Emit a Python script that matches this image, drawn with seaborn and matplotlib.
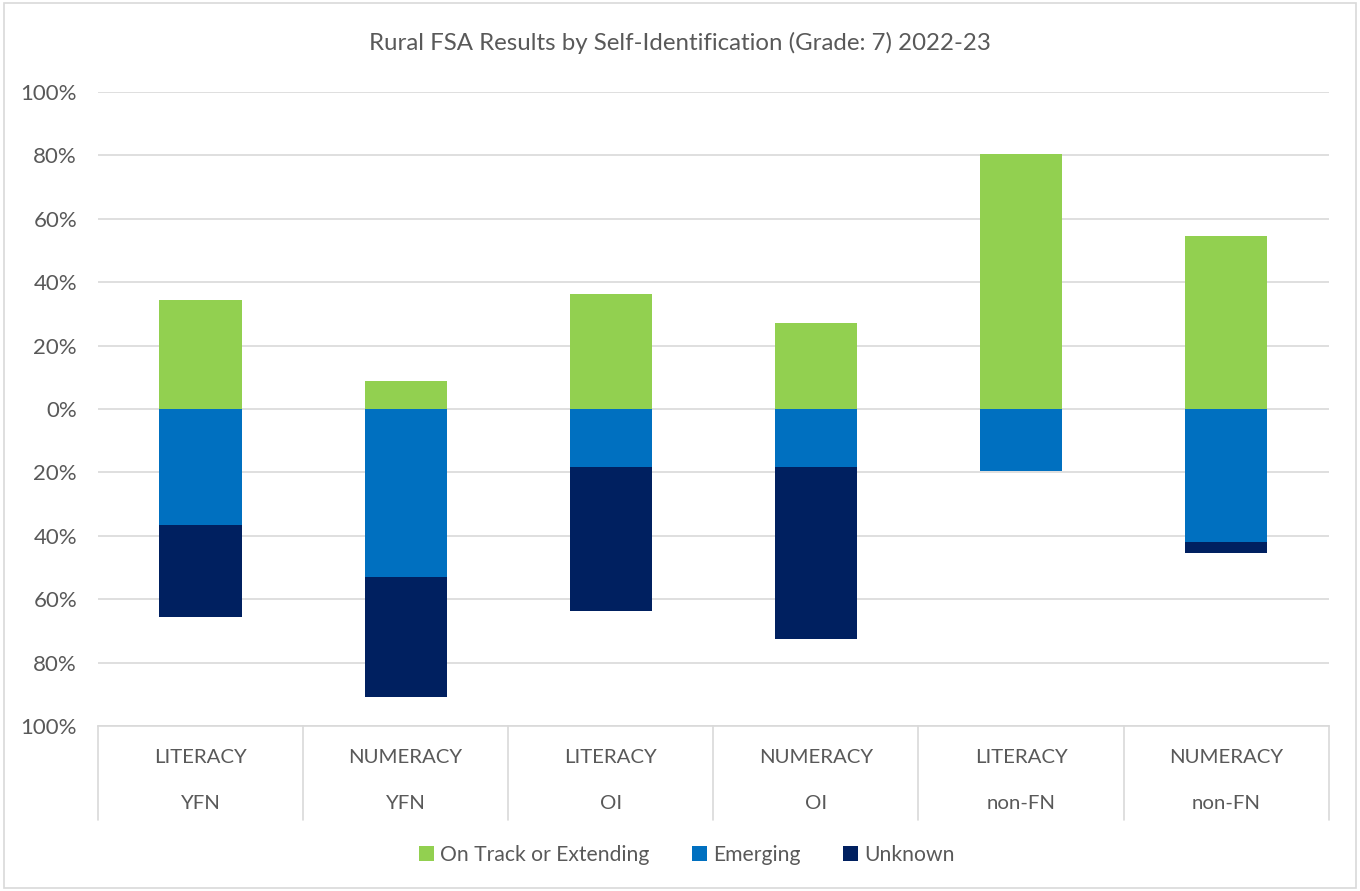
import matplotlib
matplotlib.use("Agg")
import matplotlib.pyplot as plt
import matplotlib.transforms as mtransforms
from matplotlib.patches import Patch, Rectangle
from matplotlib.ticker import FuncFormatter, MultipleLocator
import numpy as np
import pandas as pd
import seaborn as sns

# FSA results, grade 7, 2022-23 (percent of students)
subjects = ["LITERACY", "NUMERACY", "LITERACY", "NUMERACY", "LITERACY", "NUMERACY"]
groups = ["YFN", "YFN", "OI", "OI", "non-FN", "non-FN"]
on_track = [34.4, 8.9, 36.3, 27.1, 80.4, 54.6]
emerging = [36.6, 53.0, 18.3, 18.3, 19.6, 42.0]
unknown = [29.0, 37.9, 45.4, 54.3, 0.0, 3.3]

series_names = ["On Track or Extending", "Emerging", "Unknown"]
colors = {"On Track or Extending": "#92D050", "Emerging": "#0070C0", "Unknown": "#002060"}
text_color = "#595959"
grid_color = "#D9D9D9"

labels = [f"{s}\n{g}" for s, g in zip(subjects, groups)]
df = pd.DataFrame({
    "label": labels,
    "on_track": on_track,
    "emerging_neg": [-e for e in emerging],
    "below_total": [-(e + u) for e, u in zip(emerging, unknown)],
})

sns.set_theme(style="white")
plt.rcParams["font.family"] = ["Lato", "DejaVu Sans"]

fig = plt.figure(figsize=(13.6, 8.91), dpi=100)
ax = fig.add_axes([0.072, 0.1852, 0.905, 0.7115])

# Stacked layers below zero: full depth first, emerging drawn over it
sns.barplot(data=df, x="label", y="below_total", color=colors["Unknown"],
            width=0.4, ax=ax, saturation=1, linewidth=0)
sns.barplot(data=df, x="label", y="emerging_neg", color=colors["Emerging"],
            width=0.4, ax=ax, saturation=1, linewidth=0)
sns.barplot(data=df, x="label", y="on_track", color=colors["On Track or Extending"],
            width=0.4, ax=ax, saturation=1, linewidth=0)

ax.set_ylim(-100, 100)
ax.set_xlim(-0.5, len(labels) - 0.5)
ax.yaxis.set_major_locator(MultipleLocator(20))
ax.yaxis.set_major_formatter(FuncFormatter(lambda v, p: f"{abs(v):.0f}%"))
ax.tick_params(axis="y", length=0, labelsize=16, labelcolor=text_color, pad=15)
ax.set_xticks([])
ax.set_xlabel("")
ax.set_ylabel("")
ax.yaxis.grid(True, color=grid_color, linewidth=1.2)
ax.set_axisbelow(True)
for side in ["top", "left", "right"]:
    ax.spines[side].set_visible(False)
ax.spines["bottom"].set_color(grid_color)
ax.spines["bottom"].set_linewidth(1.2)

# Two-level category axis with separators
n = len(labels)
for i in range(n + 1):
    ax.plot([i / n, i / n], [0, -0.148], transform=ax.transAxes,
            color=grid_color, linewidth=1.2, clip_on=False)
trans = mtransforms.blended_transform_factory(ax.transData, ax.transAxes)
for i, (s, g) in enumerate(zip(subjects, groups)):
    ax.text(i, -0.049, s, transform=trans, ha="center", va="center",
            fontsize=14.7, color=text_color)
    ax.text(i, -0.123, g, transform=trans, ha="center", va="center",
            fontsize=14.7, color=text_color)

fig.text(0.5, 1 - 43 / 891, "Rural FSA Results by Self-Identification (Grade: 7) 2022-23",
         ha="center", va="center", fontsize=17.3, color=text_color)

handles = [Patch(facecolor=colors[k], edgecolor="none", label=k) for k in series_names]
fig.legend(handles=handles, loc="center", bbox_to_anchor=(0.505, 1 - 855 / 891),
           ncol=3, frameon=False, fontsize=15.2, labelcolor=text_color,
           handlelength=0.7, handleheight=0.7, handletextpad=0.3, columnspacing=2.0)

# Light chart-area border
fig.patches.append(Rectangle((0.003, 0.003), 0.994, 0.994, transform=fig.transFigure,
                             fill=False, edgecolor=grid_color, linewidth=1.2))

fig.savefig("out.png", dpi=100, facecolor="white")
